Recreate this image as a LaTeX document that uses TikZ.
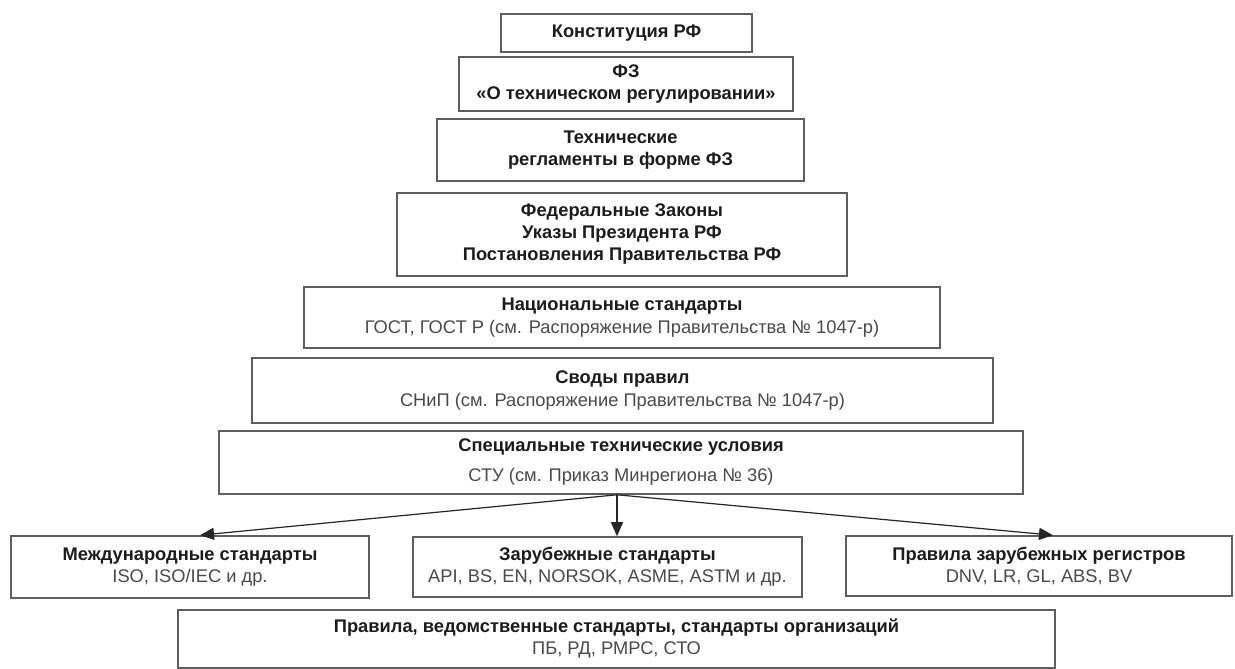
\documentclass[tikz,border=0pt]{standalone}
\usepackage{fontspec}
\setmainfont{Liberation Sans}
\usetikzlibrary{arrows.meta}
\definecolor{edgecol}{HTML}{5E5E5E}
\definecolor{inkcol}{HTML}{1C1C1C}
\definecolor{subcol}{HTML}{4A4A4A}
\newcommand\hdfont{\fontsize{18.3}{22}\selectfont\bfseries}
\newcommand\sbfont{\fontsize{18.3}{22}\selectfont\mdseries\color{subcol}}
\begin{document}
\begin{tikzpicture}[x=1pt,y=-1pt,
  box/.style={draw=edgecol,line width=1.6pt,fill=white,align=center,inner sep=0pt,text=inkcol,font=\hdfont},
  conn/.style={draw=black!85,line width=1.2pt,-{Triangle[length=14pt,width=12pt]}}]
\useasboundingbox[fill=white] (0,0) rectangle (1235,669);
\node[box,minimum width=251pt,minimum height=38pt] (konst) at (626.5,33) {Конституция РФ};
\node[box,minimum width=334pt,minimum height=54pt] (fz) at (626,84) {ФЗ\\«О техническом регулировании»};
\node[box,minimum width=367pt,minimum height=62pt] (tr) at (620.5,150) {Технические\\регламенты в форме ФЗ};
\node[box,minimum width=450pt,minimum height=83pt] (fed) at (622,234.5) {Федеральные Законы\\Указы Президента РФ\\Постановления Правительства РФ};
\node[box,minimum width=636pt,minimum height=61pt] (nat) at (622,317.5) {Национальные стандарты\\[1pt]{\sbfont ГОСТ, ГОСТ Р (см. Распоряжение Правительства № 1047-р)}};
\node[box,minimum width=741pt,minimum height=65pt] (svod) at (622.5,390.5) {Своды правил\\[1pt]{\sbfont СНиП (см. Распоряжение Правительства № 1047-р)}};
\node[box,minimum width=804pt,minimum height=63pt] (spec) at (621,462.5) {Специальные технические условия\\[8pt]{\sbfont СТУ (см. Приказ Минрегиона № 36)}};
\node[box,minimum width=358pt,minimum height=62pt] (mezh) at (190,567) {Международные стандарты\\{\sbfont ISO, ISO/IEC и др.}};
\node[box,minimum width=389pt,minimum height=60pt] (zar) at (607.5,567) {Зарубежные стандарты\\{\sbfont API, BS, EN, NORSOK, ASME, ASTM и др.}};
\node[box,minimum width=386pt,minimum height=60pt] (reg) at (1039,566) {Правила зарубежных регистров\\{\sbfont DNV, LR, GL, ABS, BV}};
\node[box,minimum width=877pt,minimum height=58pt] (ved) at (616.5,639) {Правила, ведомственные стандарты, стандарты организаций\\{\sbfont ПБ, РД, РМРС, СТО}};
\coordinate (src) at ([xshift=-4pt]spec.south);
\coordinate (t1) at ([xshift=10pt]mezh.north);
\coordinate (t2) at ([xshift=9.5pt]zar.north);
\coordinate (t3) at ([xshift=14pt]reg.north);
\draw[conn] (src) -- (t1);
\draw[conn] (src) -- (t2);
\draw[conn] (src) -- (t3);
\end{tikzpicture}
\end{document}
